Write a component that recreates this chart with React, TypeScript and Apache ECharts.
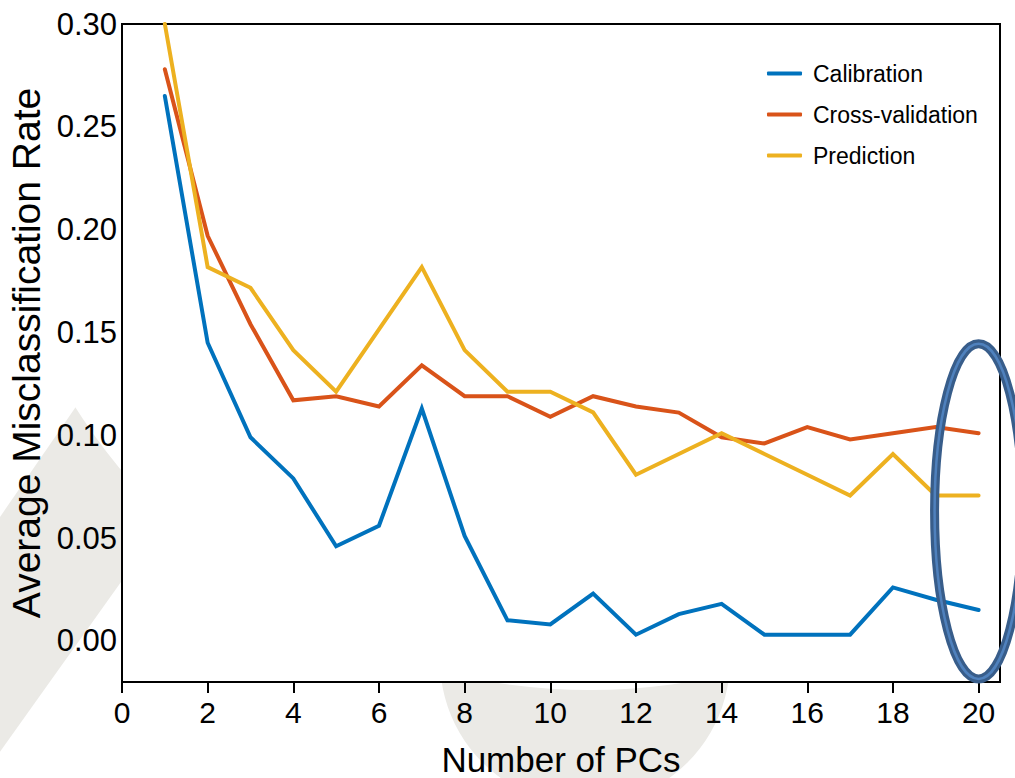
import React, { useEffect, useRef } from "react";
import * as echarts from "echarts";

// Number of principal components
const pcs: number[] = [1, 2, 3, 4, 5, 6, 7, 8, 9, 10, 11, 12, 13, 14, 15, 16, 17, 18, 19, 20];

// Average misclassification rate per model stage
const calibration: number[] = [
  0.265, 0.145, 0.099, 0.079, 0.046, 0.056, 0.113, 0.051, 0.010, 0.008,
  0.023, 0.003, 0.013, 0.018, 0.003, 0.003, 0.003, 0.026, 0.020, 0.015,
];
const crossValidation: number[] = [
  0.278, 0.197, 0.154, 0.117, 0.119, 0.114, 0.134, 0.119, 0.119, 0.109,
  0.119, 0.114, 0.111, 0.099, 0.096, 0.104, 0.098, 0.101, 0.104, 0.101,
];
const prediction: number[] = [
  0.300, 0.1818, 0.1717, 0.1414, 0.1212, 0.1515, 0.1818, 0.1414, 0.1212, 0.1212,
  0.1111, 0.0808, 0.0909, 0.1010, 0.0909, 0.0808, 0.0707, 0.0909, 0.0707, 0.0707,
];

const seriesNames: string[] = ["Calibration", "Cross-validation", "Prediction"];
const seriesColors: string[] = ["#0072BD", "#D95319", "#EDB120"];

// Axis ticks
const xTicks: number[] = [0, 2, 4, 6, 8, 10, 12, 14, 16, 18, 20];
const yTicks: number[] = [0, 0.05, 0.1, 0.15, 0.2, 0.25, 0.3];
const yMinorTicks: number[] = [0.025, 0.075, 0.125, 0.175, 0.225, 0.275];

// Highlighted region around the last component
const highlightPc = 20;
const highlightLow = -0.0185;
const highlightHigh = 0.1445;

const FONT = "'Liberation Sans', Arial, Helvetica, sans-serif";
const WATERMARK = "#ebeae6";

export default function App() {
  const ref = useRef<HTMLDivElement>(null);

  useEffect(() => {
    if (!ref.current) return;
    const chart = echarts.init(ref.current, undefined, { renderer: "svg" });

    const toPairs = (vals: number[]) => pcs.map((x, i) => [x, vals[i]]);
    const allValues = [calibration, crossValidation, prediction];

    chart.setOption({
      animation: false,
      backgroundColor: "#fff",
      textStyle: { fontFamily: FONT },
      grid: {
        left: 122,
        right: 15,
        top: 24,
        bottom: 96,
        outerBoundsMode: "none",
        containLabel: false,
        show: true,
        backgroundColor: "#fff",
        borderColor: "#000",
        borderWidth: 2,
        z: 1,
      },
      legend: {
        orient: "vertical",
        left: 762,
        top: 57,
        itemWidth: 35,
        itemHeight: 4,
        itemGap: 18,
        data: seriesNames.map((name) => ({ name, icon: "roundRect" })),
        textStyle: { fontFamily: FONT, fontSize: 23, color: "#000", padding: [0, 0, 0, 6] },
        z: 5,
      },
      xAxis: {
        type: "value",
        min: 0,
        max: 20.5,
        name: "Number of PCs",
        nameLocation: "middle",
        nameGap: 60,
        nameTextStyle: { fontFamily: FONT, fontSize: 35, color: "#000" },
        axisLine: { show: true, onZero: false, lineStyle: { color: "#000", width: 2 } },
        axisTick: { show: true, inside: false, length: 11, customValues: xTicks, lineStyle: { color: "#000", width: 2 } },
        axisLabel: { customValues: xTicks, margin: 15, fontFamily: FONT, fontSize: 30, color: "#000" },
        splitLine: { show: false },
      },
      yAxis: [
        {
          type: "value",
          min: -0.02,
          max: 0.3,
          name: "Average Misclassification Rate",
          nameLocation: "middle",
          nameGap: 59,
          nameTextStyle: { fontFamily: FONT, fontSize: 39, color: "#000" },
          axisLine: { show: true, onZero: false, lineStyle: { color: "#000", width: 2 } },
          axisTick: { show: true, inside: true, length: 10, customValues: yTicks, lineStyle: { color: "#000", width: 1.5 } },
          axisLabel: {
            customValues: yTicks,
            margin: 5,
            fontFamily: FONT,
            fontSize: 31,
            color: "#000",
            formatter: (v: number) => v.toFixed(2),
          },
          splitLine: { show: false },
        },
        {
          type: "value",
          min: -0.02,
          max: 0.3,
          position: "left",
          axisLine: { show: false },
          axisTick: { show: true, inside: true, length: 5, customValues: yMinorTicks, lineStyle: { color: "#000", width: 1.5 } },
          axisLabel: { show: false },
          splitLine: { show: false },
        },
      ],
      series: seriesNames.map((name, i) => ({
        name,
        type: "line",
        yAxisIndex: 0,
        data: toPairs(allValues[i]),
        symbol: "none",
        color: seriesColors[i],
        itemStyle: { color: seriesColors[i] },
        lineStyle: { color: seriesColors[i], width: 4, cap: "round", join: "miter" },
        emphasis: { disabled: true },
        z: 3,
      })),
    });

    // Highlight ellipse placed in data coordinates
    const c = chart.convertToPixel({ gridIndex: 0 }, [highlightPc, (highlightLow + highlightHigh) / 2]) as number[];
    const top = chart.convertToPixel({ gridIndex: 0 }, [highlightPc, highlightHigh]) as number[];
    const ry = Math.abs(c[1] - top[1]);
    const rx = 44;

    chart.setOption({
      graphic: [
        // faint background watermark shapes, visible only outside the plot area
        {
          type: "polygon",
          z: -10,
          silent: true,
          shape: { points: [[126, 334], [-40, 575], [-40, 808], [126, 575]] },
          style: { fill: WATERMARK },
        },
        {
          type: "polygon",
          z: -10,
          silent: true,
          shape: { points: [[221, 0], [281, 0], [288, 24], [228, 24]] },
          style: { fill: WATERMARK },
        },
        {
          type: "circle",
          z: -10,
          silent: true,
          shape: { cx: 585, cy: 660, r: 145 },
          style: { fill: WATERMARK },
        },
        {
          type: "circle",
          z: -9,
          silent: true,
          shape: { cx: 590, cy: 80, r: 610 },
          style: { fill: "#fff" },
        },
        {
          type: "ellipse",
          z: 100,
          silent: true,
          shape: { cx: c[0], cy: c[1], rx, ry },
          style: { fill: "none", stroke: "#385D8A", lineWidth: 9 },
        },
        {
          type: "ellipse",
          z: 101,
          silent: true,
          shape: { cx: c[0], cy: c[1], rx, ry },
          style: { fill: "none", stroke: "#4F81BD", lineWidth: 2.5 },
        },
      ],
    });

    return () => chart.dispose();
  }, []);

  return (
    <div
      ref={ref}
      style={{ position: "fixed", left: 0, top: 0, width: 1015, height: 778, background: "#fff" }}
    />
  );
}
